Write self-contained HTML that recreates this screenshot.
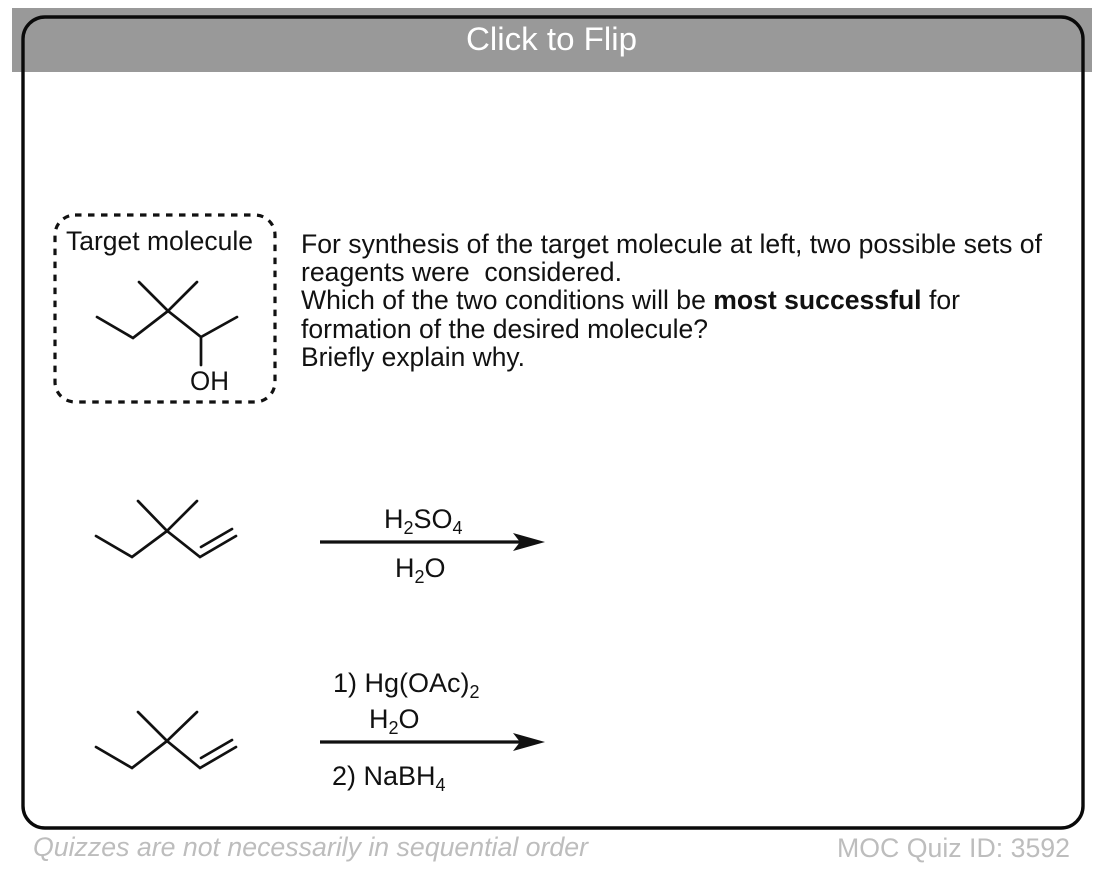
<!DOCTYPE html>
<html><head><meta charset="utf-8"><title>Quiz</title>
<style>
html,body{margin:0;padding:0;background:#fff;width:1102px;height:874px;overflow:hidden}
svg{display:block}
text{font-family:"Liberation Sans",Arial,sans-serif;fill:#111}
.s{font-size:26.5px}
.r{font-size:27px}
.b{fill:none;stroke:#111;stroke-width:2.7;stroke-linecap:round;stroke-linejoin:miter}
</style></head><body>
<svg width="1102" height="874" viewBox="0 0 1102 874" xmlns="http://www.w3.org/2000/svg">
<rect x="12" y="8" width="1080" height="64" fill="#999"/>
<rect x="23" y="17" width="1060" height="811" rx="22" ry="22" fill="none" stroke="#0a0a0a" stroke-width="3.4"/>
<text x="466" y="50" font-size="32" style="fill:#fff" textLength="171" lengthAdjust="spacingAndGlyphs">Click to Flip</text>

<rect x="55" y="215" width="220" height="187" rx="20" ry="20" fill="none" stroke="#111" stroke-width="3.2" stroke-dasharray="6.5 6.5"/>
<text x="66" y="250" class="s" textLength="187" lengthAdjust="spacingAndGlyphs">Target molecule</text>
<path class="b" d="M139 282L168 311L197 282M97 317L133 338L168 311L201 337L237 317M201 337V365"/>
<text x="190" y="390" class="s" textLength="39" lengthAdjust="spacingAndGlyphs">OH</text>

<text x="301" y="253" class="s" textLength="741" lengthAdjust="spacingAndGlyphs">For synthesis of the target molecule at left, two possible sets of</text>
<text x="301" y="281" class="s" textLength="321" lengthAdjust="spacingAndGlyphs" xml:space="preserve">reagents were  considered.</text>
<text x="301" y="309" class="s" textLength="659" lengthAdjust="spacingAndGlyphs">Which of the two conditions will be <tspan font-weight="bold">most successful</tspan> for</text>
<text x="301" y="338" class="s" textLength="407" lengthAdjust="spacingAndGlyphs">formation of the desired molecule?</text>
<text x="301" y="366" class="s" textLength="224" lengthAdjust="spacingAndGlyphs">Briefly explain why.</text>

<path class="b" d="M138 501L167 531L197 501M96 536L132 557L167 531L200 557L236 536M201 547L232 529"/>
<path d="M320 542H522" stroke="#111" stroke-width="3.2" fill="none"/>
<path d="M545 542L513 533L520 542L513 551Z" fill="#111"/>
<text x="384" y="528" class="r">H<tspan font-size="18" dy="6">2</tspan><tspan dy="-6">SO</tspan><tspan font-size="18" dy="6">4</tspan></text>
<text x="395" y="577" class="r">H<tspan font-size="18" dy="6">2</tspan><tspan dy="-6">O</tspan></text>

<path class="b" d="M138 712L167 741L197 712M96 747L132 768L167 741L200 768L236 747M201 758L232 740"/>
<path d="M320 742H522" stroke="#111" stroke-width="3.2" fill="none"/>
<path d="M545 742L513 733L520 742L513 751Z" fill="#111"/>
<text x="333" y="692" class="r">1) Hg(OAc)<tspan font-size="18" dy="6">2</tspan></text>
<text x="369" y="728" class="r">H<tspan font-size="18" dy="6">2</tspan><tspan dy="-6">O</tspan></text>
<text x="332" y="785" class="r">2) NaBH<tspan font-size="18" dy="6">4</tspan></text>

<text x="33" y="856" font-size="27" font-style="italic" style="fill:#bdbdbd" textLength="555" lengthAdjust="spacingAndGlyphs">Quizzes are not necessarily in sequential order</text>
<text x="837" y="857" font-size="27" style="fill:#bdbdbd" textLength="233" lengthAdjust="spacingAndGlyphs">MOC Quiz ID: 3592</text>
</svg>
</body></html>
